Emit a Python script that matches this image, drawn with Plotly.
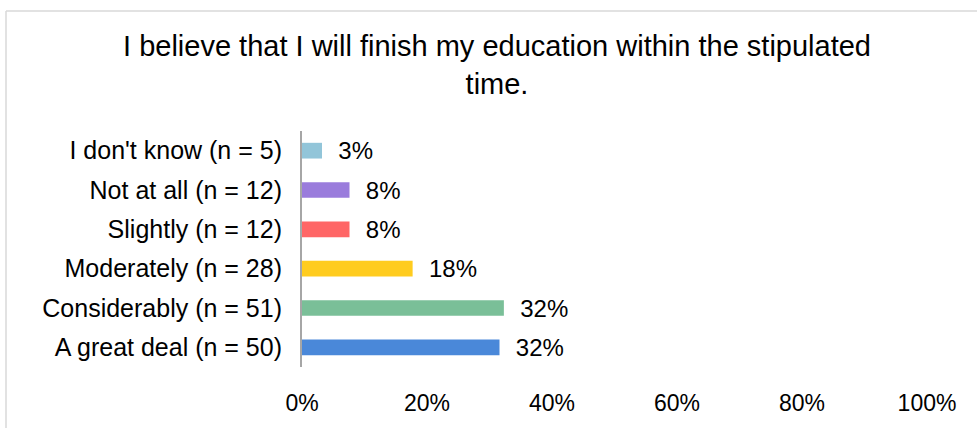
import plotly.graph_objects as go

categories = ["A great deal (n = 50)", "Considerably (n = 51)", "Moderately (n = 28)",
              "Slightly (n = 12)", "Not at all (n = 12)", "I don't know (n = 5)"]
percent = [31.6, 32.3, 17.7, 7.6, 7.6, 3.2]
bar_colors = ["#4A88D9", "#7ABF98", "#FFCC1F", "#FF6666", "#9A7CDC", "#92C5D9"]
tick_vals = [0, 20, 40, 60, 80, 100]
tick_text = ["0%", "20%", "40%", "60%", "80%", "100%"]
title_text = "I believe that I will finish my education within the stipulated<br>time."

W, H = 977, 428
ml, mr, mt, mb = 302, 50, 131, 59
pw, ph = W - ml - mr, H - mt - mb
FONT = "Liberation Sans, Arial, sans-serif"

fig = go.Figure(go.Bar(
    x=percent, y=categories, orientation="h",
    marker=dict(color=bar_colors, line=dict(width=0)),
    width=0.4,
    texttemplate="\u00a0\u00a0%{x:.0f}%", textposition="outside",
    constraintext="none",
    textfont=dict(family=FONT, size=24, color="#000000"),
    cliponaxis=False, hoverinfo="skip",
))

fig.update_layout(
    width=W, height=H,
    margin=dict(l=ml, r=mr, t=mt, b=mb),
    paper_bgcolor="white", plot_bgcolor="white",
    font=dict(family=FONT, size=24, color="#000000"),
    showlegend=False,
    title=dict(text=title_text, x=497 / W, xanchor="center",
               y=1 - 56 / H, yanchor="middle", yref="container",
               font=dict(size=29, color="#000000")),
    xaxis=dict(range=[0, 100], tickvals=tick_vals, ticktext=tick_text,
               showgrid=False, zeroline=False, showline=False,
               ticks="", ticklabelstandoff=20, tickfont=dict(size=23)),
    yaxis=dict(categoryorder="array", categoryarray=categories,
               showgrid=False, zeroline=False, showline=True,
               linecolor="#A6A6A6", linewidth=2, ticks="",
               ticklabelstandoff=13, tickfont=dict(size=25)),
    shapes=[
        dict(type="line", xref="paper", yref="paper",
             x0=(6 - ml) / pw, x1=(W + 5 - ml) / pw,
             y0=(H - mb - 10) / ph, y1=(H - mb - 10) / ph,
             line=dict(color="#D9D9D9", width=1.5)),
        dict(type="line", xref="paper", yref="paper",
             x0=(6 - ml) / pw, x1=(6 - ml) / pw,
             y0=(H - mb - 10) / ph, y1=-(mb + 5) / ph,
             line=dict(color="#D9D9D9", width=1.5)),
    ],
)

fig.write_html("out.html", config={"displayModeBar": False},
               post_script="document.body.style.margin='0';")
